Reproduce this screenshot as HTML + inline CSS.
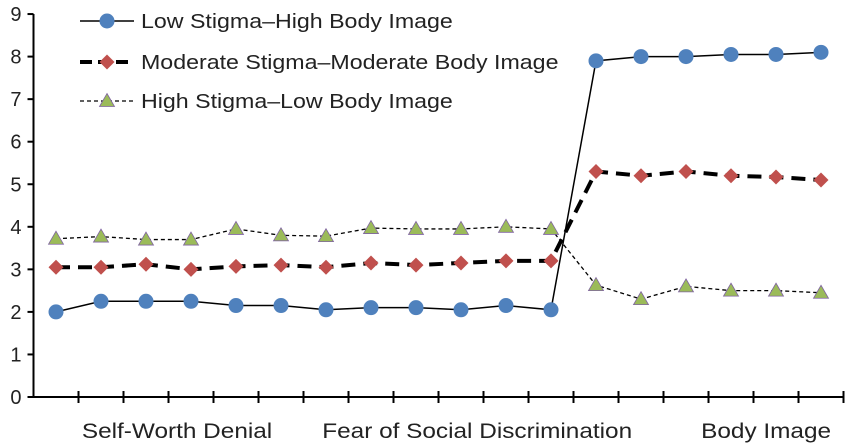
<!DOCTYPE html>
<html><head><meta charset="utf-8"><style>
body{margin:0;background:#fff;}
svg{display:block;font-family:"Liberation Sans",sans-serif;}
</style></head><body>
<svg id="chart" width="851" height="448"></svg>
<script>
const categories=["1","2","3","4","5","6","7","8","9","10","11","12","13","14","15","16","17","18"];
const lowStigma=[2.0,2.25,2.25,2.25,2.15,2.15,2.05,2.1,2.1,2.05,2.15,2.05,7.9,8.0,8.0,8.05,8.05,8.1];
const modStigma=[3.05,3.05,3.12,3.0,3.07,3.1,3.05,3.15,3.1,3.15,3.2,3.2,5.3,5.2,5.3,5.2,5.17,5.1];
const highStigma=[3.72,3.77,3.7,3.7,3.95,3.8,3.78,3.97,3.95,3.95,4.0,3.95,2.63,2.3,2.6,2.5,2.5,2.45];
const yTicks=[0,1,2,3,4,5,6,7,8,9];
const groupLabels=["Self-Worth Denial","Fear of Social Discrimination","Body Image"];
const groupCenters=[2.69,9.36,15.78];

const svg=document.getElementById('chart');
const NS='http://www.w3.org/2000/svg';
const x0=33.5,cw=45,y0=397,yu=42.55;
const X=i=>x0+cw*(i+0.5);
const Y=v=>y0-v*yu;
function el(t,a,p){const e=document.createElementNS(NS,t);for(const k in a)e.setAttribute(k,a[k]);(p||svg).appendChild(e);return e;}
const SX=1.16;

const axes=el('g',{});


el('line',{x1:x0,y1:Y(9),x2:x0,y2:y0,stroke:'#000','stroke-width':2},axes);
el('line',{x1:x0-6,y1:y0,x2:x0+cw*categories.length,y2:y0,stroke:'#000','stroke-width':2},axes);
yTicks.forEach(v=>{
  el('line',{x1:x0-6,y1:Y(v),x2:x0,y2:Y(v),stroke:'#000','stroke-width':2},axes);
  const t=el('text',{x:x0-12,y:Y(v)+7,'text-anchor':'end','font-size':20,fill:'#222'},axes);
  t.textContent=v;
  
  
});
for(let i=1;i<=categories.length;i++){
  el('line',{x1:x0+cw*i,y1:y0-6,x2:x0+cw*i,y2:y0+6,stroke:'#000','stroke-width':2},axes);
}
groupLabels.forEach((g,i)=>{
  const cx=X(groupCenters[i]);
  const t=el('text',{x:cx/SX,y:438,'text-anchor':'middle','font-size':21,fill:'#222',transform:`scale(${SX},1)`},axes);
  t.textContent=g;
  
  
});

function series(vals,name,stroke,sw,dash,marker){
  const g=el('g',{});
  
  
  el('polyline',{points:vals.map((v,i)=>X(i)+','+Y(v)).join(' '),fill:'none',stroke:stroke,'stroke-width':sw,'stroke-dasharray':dash},g);
  vals.forEach((v,i)=>{
    const m=marker(X(i),Y(v),g);
    
    
  });
}
const circ=(x,y,g)=>el('circle',{cx:x,cy:y,r:7.5,fill:'#4f81bd'},g);
const diam=(x,y,g)=>el('polygon',{points:`${x},${y-7.5} ${x+7.5},${y} ${x},${y+7.5} ${x-7.5},${y}`,fill:'#c0504d'},g);
const tri=(x,y,g)=>el('polygon',{points:`${x},${y-7.5} ${x+7.5},${y+5.5} ${x-7.5},${y+5.5}`,fill:'#9bbb59',stroke:'#8064a2','stroke-width':0.8},g);
series(highStigma,'high-stigma-series','#000',1.3,'4,3',tri);
series(modStigma,'moderate-stigma-series','#000',4,'14,8',diam);
series(lowStigma,'low-stigma-series','#000',1.5,'',circ);

const leg=[["Low Stigma–High Body Image",1.5,'',circ,21],["Moderate Stigma–Moderate Body Image",4,'12,6',diam,62],["High Stigma–Low Body Image",1.3,'4,3',tri,101]];
leg.forEach(l=>{
  const g=el('g',{});
  
  
  el('line',{x1:80,y1:l[4],x2:134,y2:l[4],stroke:'#000','stroke-width':l[1],'stroke-dasharray':l[2]},g);
  l[3](107,l[4],g);
  const t=el('text',{x:141/SX,y:l[4]+7,'font-size':20,fill:'#222',transform:`scale(${SX},1)`},g);
  t.textContent=l[0];
});
</script>
</body></html>
